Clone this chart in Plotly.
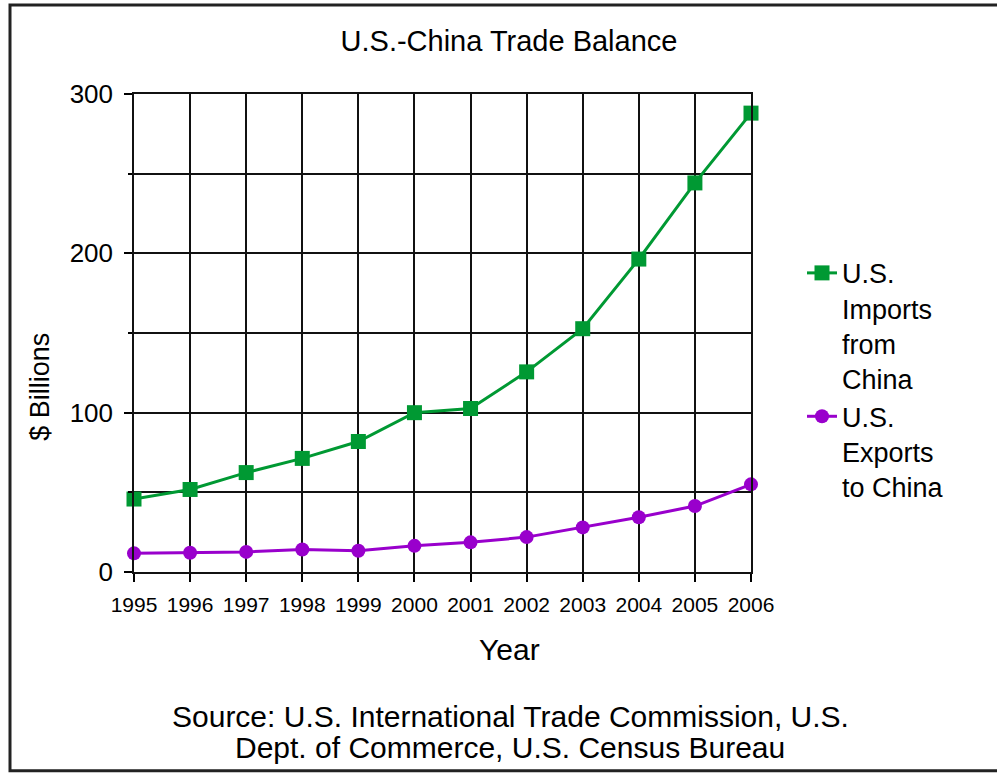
import plotly.graph_objects as go

years = [1995, 1996, 1997, 1998, 1999, 2000, 2001, 2002, 2003, 2004, 2005, 2006]
year_labels = [str(y) for y in years]
imports_from_china = [45.8, 51.8, 62.4, 71.3, 81.9, 100.0, 102.6, 125.6, 152.7, 196.4, 244.2, 288.0]
exports_to_china = [11.7, 12.1, 12.6, 14.1, 13.3, 16.4, 18.6, 21.9, 28.0, 34.4, 41.4, 55.0]
y_tick_vals = [0, 100, 200, 300]
y_tick_text = ["0", "100", "200", "300"]

FONT = "Liberation Sans, Arial, sans-serif"
GREEN = "#009933"
PURPLE = "#9900cc"

# plot area in pixels
L, R, T, B = 134, 751, 94, 572.5
W, H = 997, 774


def px(x):
    return (x - L) / (R - L)


def py(y):
    return (B - y) / (B - T)


fig = go.Figure()
fig.add_trace(go.Scatter(
    x=years, y=imports_from_china, mode="lines+markers",
    name="U.S.<br>Imports<br>from<br>China",
    line=dict(color=GREEN, width=3),
    marker=dict(symbol="square", size=15, color=GREEN),
    cliponaxis=False,
))
fig.add_trace(go.Scatter(
    x=years, y=exports_to_china, mode="lines+markers",
    name="U.S.<br>Exports<br>to China",
    line=dict(color=PURPLE, width=3),
    marker=dict(symbol="circle", size=14, color=PURPLE),
    cliponaxis=False,
))

fig.update_layout(
    width=W, height=H,
    margin=dict(l=L, r=W - R, t=T, b=H - B, pad=0),
    paper_bgcolor="white", plot_bgcolor="white",
    font=dict(family=FONT, color="black"),
    title=dict(text="U.S.-China Trade Balance", x=509 / W, xanchor="center",
               y=1 - 41 / H, yanchor="middle", font=dict(size=29, family=FONT)),
    showlegend=True,
    legend=dict(x=px(802), y=py(249), xanchor="left", yanchor="top",
                font=dict(size=27, family=FONT), valign="top",
                bgcolor="rgba(0,0,0,0)", tracegroupgap=0, itemwidth=30),
    xaxis=dict(range=[1995, 2006], tickvals=years, ticktext=year_labels,
               tickfont=dict(size=21), ticks="outside", ticklen=8, tickwidth=1.5,
               tickcolor="black", showgrid=True, gridcolor="#111", gridwidth=1.5,
               showline=True, linecolor="#111", linewidth=1.5, mirror=True,
               zeroline=False, ticklabelstandoff=5),
    yaxis=dict(range=[0, 300], tickvals=y_tick_vals, ticktext=y_tick_text,
               tickfont=dict(size=26), ticks="outside", ticklen=8, tickwidth=1.5,
               tickcolor="black", showgrid=True, gridcolor="#111", gridwidth=1.5,
               showline=True, linecolor="#111", linewidth=1.5, mirror=True,
               zeroline=False, ticklabelstandoff=6,
               minor=dict(dtick=50, ticks="outside", ticklen=4, tickwidth=1.5,
                          tickcolor="black", showgrid=True, gridcolor="#111",
                          gridwidth=1.5)),
)

annotations = [
    dict(text="$ Billions", x=px(40), y=py(387), textangle=-90, font=dict(size=27)),
    dict(text="Year", x=px(509), y=py(650), font=dict(size=30)),
    dict(text="Source: U.S. International Trade Commission, U.S.", x=px(510), y=py(717),
         font=dict(size=30)),
    dict(text="Dept. of Commerce, U.S. Census Bureau", x=px(510), y=py(748),
         font=dict(size=30)),
]
for a in annotations:
    fig.add_annotation(xref="paper", yref="paper", showarrow=False,
                       xanchor="center", yanchor="middle", **a)

# outer frame (open on the right, like the reference)
fig.add_shape(type="rect", xref="paper", yref="paper",
              x0=px(10), x1=px(1010), y0=py(771.5), y1=py(5),
              line=dict(color="#222", width=3), fillcolor="rgba(0,0,0,0)", layer="above")

fig.write_html(
    "out.html",
    config={"displayModeBar": False},
    post_script="document.body.style.margin='0';document.body.style.padding='0';"
                "document.body.style.overflow='hidden';",
)
